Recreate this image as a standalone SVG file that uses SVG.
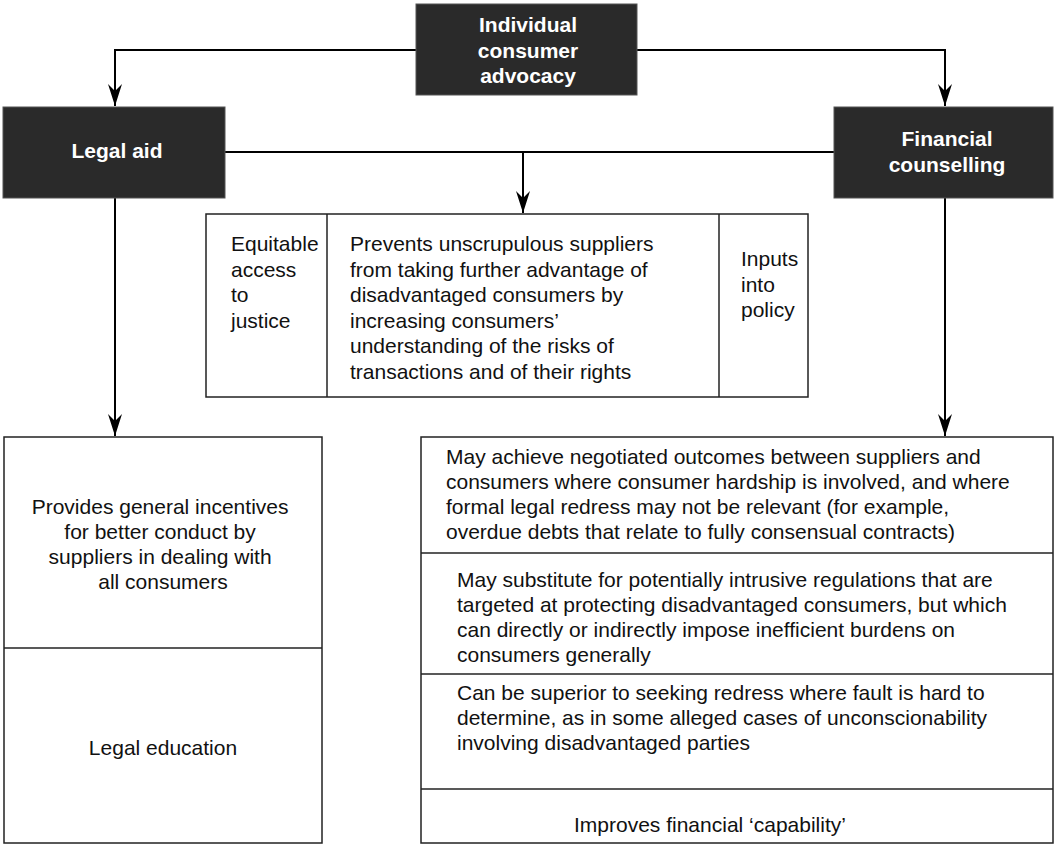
<svg xmlns="http://www.w3.org/2000/svg" width="1055" height="850" viewBox="0 0 1055 850">
  <style>
    .dark { fill: #2a2a2a; stroke: #555; stroke-width: 1; }
    .cell { fill: #ffffff; stroke: #222; stroke-width: 1.5; }
    .div { stroke: #222; stroke-width: 1.5; fill: none; }
    .title { font-family: "Liberation Sans", Arial, sans-serif; font-size: 21px; font-weight: bold; fill: #ffffff; text-anchor: middle; }
    .body { font-family: "Liberation Sans", Arial, sans-serif; font-size: 21px; fill: #111; }
    .mid { text-anchor: middle; }
    .link { stroke: #000; stroke-width: 2; fill: none; }
  </style>
  <defs>
    <marker id="arrow" markerUnits="userSpaceOnUse" markerWidth="30" markerHeight="20" viewBox="-24 -10 26 20" refX="0" refY="0" orient="auto">
      <path d="M0,0 L-22,-7 L-15,0 L-22,7 Z" fill="#000"/>
    </marker>
  </defs>

  <!-- connectors -->
  <g id="connectors">
    <path class="link" d="M416,50 H115 V106" marker-end="url(#arrow)"/>
    <path class="link" d="M637,50 H945 V106" marker-end="url(#arrow)"/>
    <path class="link" d="M225,152 H834"/>
    <path class="link" d="M523,152 V213" marker-end="url(#arrow)"/>
    <path class="link" d="M115,198 V436" marker-end="url(#arrow)"/>
    <path class="link" d="M945,198 V436" marker-end="url(#arrow)"/>
  </g>

  <!-- top node -->
  <g id="individual-consumer-advocacy">
    <rect class="dark" x="416" y="4" width="221" height="91"/>
    <text class="title" x="528" y="32">Individual</text>
    <text class="title" x="528" y="57.5">consumer</text>
    <text class="title" x="528" y="83">advocacy</text>
  </g>

  <g id="legal-aid">
    <rect class="dark" x="3" y="107" width="222" height="91"/>
    <text class="title" x="117" y="158">Legal aid</text>
  </g>

  <g id="financial-counselling">
    <rect class="dark" x="834" y="107" width="219" height="91"/>
    <text class="title" x="947" y="146">Financial</text>
    <text class="title" x="947" y="171.5">counselling</text>
  </g>

  <!-- shared outcomes -->
  <g id="shared-outcomes">
    <rect class="cell" x="206" y="214" width="602" height="183"/>
    <line class="div" x1="327" y1="214" x2="327" y2="397"/>
    <line class="div" x1="719" y1="214" x2="719" y2="397"/>
    <text class="body" x="231">
      <tspan x="231" y="251">Equitable</tspan>
      <tspan x="231" y="276.5">access</tspan>
      <tspan x="231" y="302">to</tspan>
      <tspan x="231" y="327.5">justice</tspan>
    </text>
    <text class="body" x="350">
      <tspan x="350" y="251">Prevents unscrupulous suppliers</tspan>
      <tspan x="350" y="276.5">from taking further advantage of</tspan>
      <tspan x="350" y="302">disadvantaged consumers by</tspan>
      <tspan x="350" y="327.5">increasing consumers’</tspan>
      <tspan x="350" y="353">understanding of the risks of</tspan>
      <tspan x="350" y="378.5">transactions and of their rights</tspan>
    </text>
    <text class="body" x="741">
      <tspan x="741" y="266">Inputs</tspan>
      <tspan x="741" y="291.5">into</tspan>
      <tspan x="741" y="317">policy</tspan>
    </text>
  </g>

  <!-- legal aid outcomes -->
  <g id="legal-aid-outcomes">
    <rect class="cell" x="4" y="437" width="318" height="406"/>
    <line class="div" x1="4" y1="648" x2="322" y2="648"/>
    <text class="body mid">
      <tspan x="163" y="514">Provides general incentives</tspan>
      <tspan x="163" y="539">for better conduct by</tspan>
      <tspan x="163" y="564">suppliers in dealing with</tspan>
      <tspan x="163" y="589">all consumers</tspan>
    </text>
    <text class="body mid" x="163" y="755">Legal education</text>
  </g>

  <!-- financial counselling outcomes -->
  <g id="financial-counselling-outcomes">
    <rect class="cell" x="421" y="437" width="632" height="406"/>
    <line class="div" x1="421" y1="553" x2="1053" y2="553"/>
    <line class="div" x1="421" y1="674" x2="1053" y2="674"/>
    <line class="div" x1="421" y1="789" x2="1053" y2="789"/>
    <text class="body">
      <tspan x="446" y="464">May achieve negotiated outcomes between suppliers and</tspan>
      <tspan x="446" y="489">consumers where consumer hardship is involved, and where</tspan>
      <tspan x="446" y="514">formal legal redress may not be relevant (for example,</tspan>
      <tspan x="446" y="539">overdue debts that relate to fully consensual contracts)</tspan>
    </text>
    <text class="body">
      <tspan x="457" y="587">May substitute for potentially intrusive regulations that are</tspan>
      <tspan x="457" y="612">targeted at protecting disadvantaged consumers, but which</tspan>
      <tspan x="457" y="637">can directly or indirectly impose inefficient burdens on</tspan>
      <tspan x="457" y="662">consumers generally</tspan>
    </text>
    <text class="body">
      <tspan x="457" y="700">Can be superior to seeking redress where fault is hard to</tspan>
      <tspan x="457" y="725">determine, as in some alleged cases of unconscionability</tspan>
      <tspan x="457" y="750">involving disadvantaged parties</tspan>
    </text>
    <text class="body" x="574" y="832">Improves financial ‘capability’</text>
  </g>
</svg>
